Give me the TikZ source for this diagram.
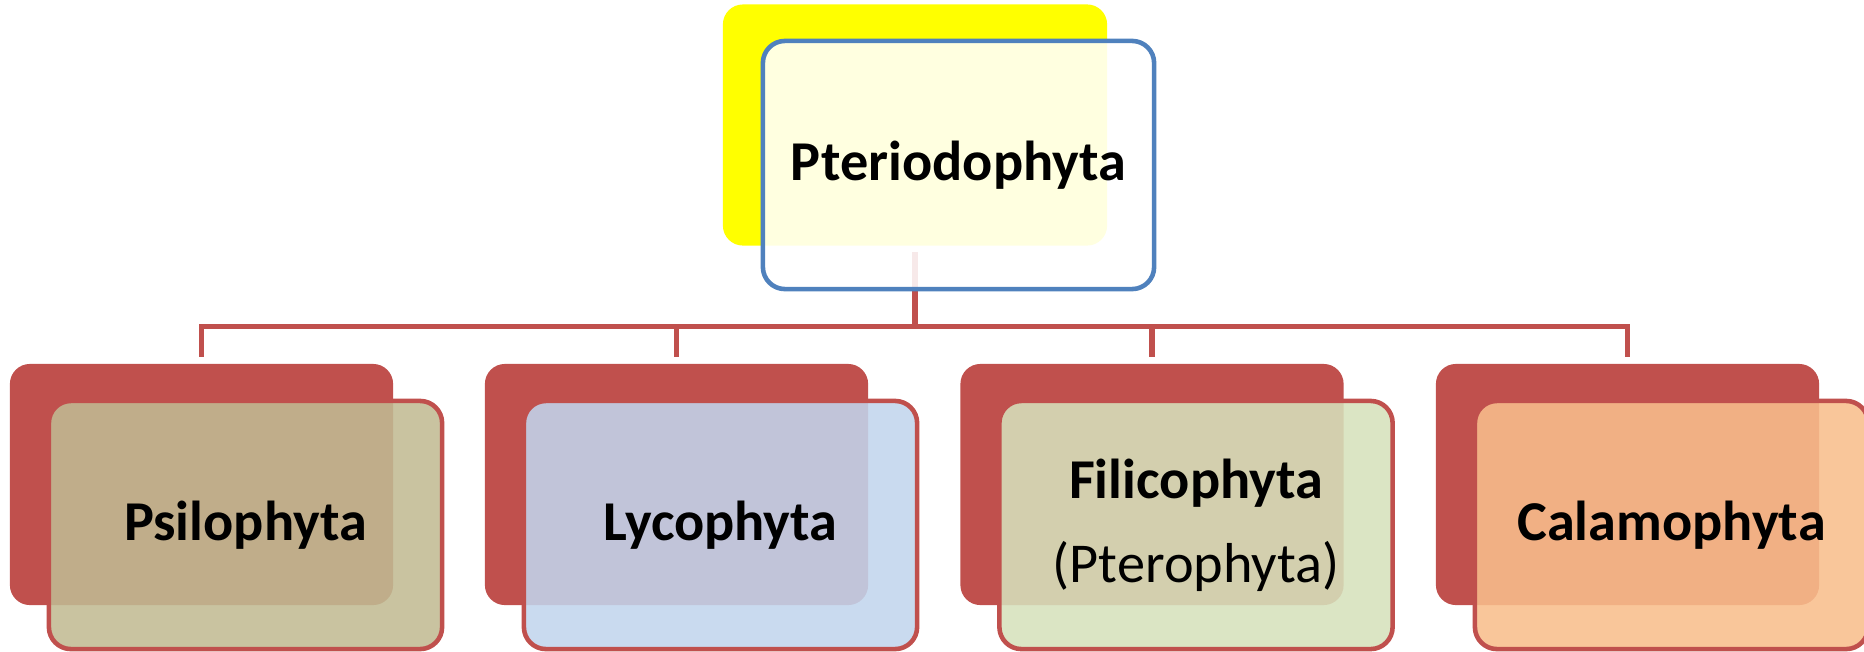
\documentclass[tikz,border=0pt]{standalone}
\usepackage{fontspec}
\setmainfont{Carlito}
\usepackage{tikz}
\usetikzlibrary{positioning,calc}
\definecolor{redc}{HTML}{C0504D}
\definecolor{bluec}{HTML}{4F81BD}
\definecolor{yellc}{HTML}{FFFF00}
\definecolor{psifill}{HTML}{C1BB93}
\definecolor{lycofill}{HTML}{C2D5ED}
\definecolor{filifill}{HTML}{D6E1BC}
\definecolor{calafill}{HTML}{F8BE8C}

\begin{document}
\begin{tikzpicture}[x=0.01cm,y=-0.01cm,
  font=\fontsize{16}{24}\selectfont,
  backbox/.style={rectangle,rounded corners=0.2cm,fill=redc,
    minimum width=3.83cm,minimum height=2.41cm,inner sep=0pt},
  frontbox/.style={rectangle,rounded corners=0.22cm,draw=redc,line width=1.3pt,
    fill opacity=0.88,text opacity=1,minimum width=3.93cm,minimum height=2.48cm,
    align=center,inner sep=0pt},
  link/.style={draw=redc,line width=1.45pt},
]
\useasboundingbox (0,0) rectangle (1864,651);

% top: the division
\node[backbox,fill=yellc,minimum width=3.84cm] (topback) at (915,125) {};
\draw[link] ([yshift=-0.06cm]topback.south) -- ++(0,74) coordinate (bus);
\node[frontbox,draw=bluec,fill=white,minimum width=3.91cm,
      font=\fontsize{16}{24}\selectfont\bfseries] (topfront) at (958.5,165) {Pteriodophyta};

% bottom: the four classes
\node[backbox] (psiback)  at (201.5,484.5) {};
\node[backbox] (lycoback) at (676.5,484.5) {};
\node[backbox] (filiback) at (1152,484.5) {};
\node[backbox] (calaback) at (1627.5,484.5) {};

\draw[link] (bus) -| ([yshift=0.06cm]psiback.north);
\draw[link] (bus) -| ([yshift=0.06cm]lycoback.north);
\draw[link] (bus) -| ([yshift=0.06cm]filiback.north);
\draw[link] (bus) -| ([yshift=0.06cm]calaback.north);

\node[frontbox,fill=psifill]  (psifront)  at (245.5,525) {\textbf{Psilophyta}};
\node[frontbox,fill=lycofill] (lycofront) at (720.5,525) {\textbf{Lycophyta}};
\node[frontbox,fill=filifill] (filifront) at (1196,525)
  {\textbf{Filicophyta}\\(Pterophyta)};
\node[frontbox,fill=calafill] (calafront) at (1671.5,525) {\textbf{Calamophyta}};
\end{tikzpicture}
\end{document}
